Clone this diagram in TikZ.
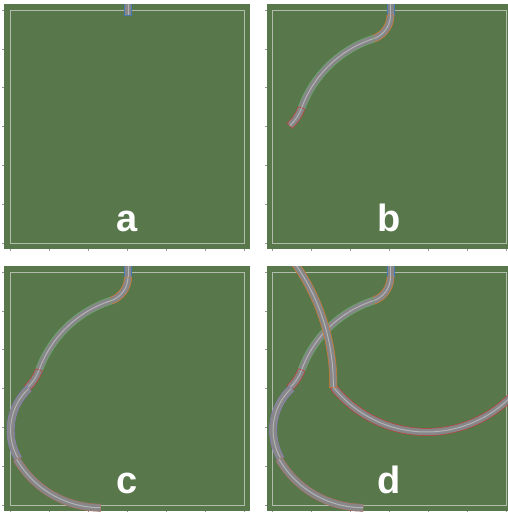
\documentclass[tikz,border=0pt]{standalone}
\usepackage{fontspec}
\setmainfont{Liberation Sans}
\definecolor{field}{RGB}{88,120,76}
\definecolor{road}{RGB}{135,135,138}
\definecolor{roadmid}{RGB}{180,180,182}
\definecolor{frameline}{RGB}{178,188,172}
\definecolor{tickgray}{RGB}{150,150,150}
\definecolor{pblue}{RGB}{70,120,180}
\definecolor{porange}{RGB}{215,120,40}
\definecolor{pgreen}{RGB}{95,170,95}
\definecolor{pred}{RGB}{195,60,55}
\definecolor{ppurple}{RGB}{140,125,190}
\definecolor{pbrown}{RGB}{175,110,100}
\tikzset{
  piece/.style={fill=road, line width=0.5pt},
  midline/.style={draw=roadmid, line width=1pt},
  lbl/.style={anchor=base, text=white, inner sep=0pt, font=\fontsize{38}{38}\selectfont\bfseries},
  innerframe/.style={draw=frameline, line width=0.9pt},
  tickmark/.style={draw=tickgray, line width=0.6pt}
}
\newcommand{\trackarc}[6]{%
  \begin{scope}[shift={(#1,#2)}]
    \pgfmathsetmacro\trkOut{#3+3.6}%
    \pgfmathsetmacro\trkIn{#3-3.6}%
    \filldraw[piece, draw=#6] (#4:\trkOut) arc[start angle=#4, end angle=#5, radius=\trkOut]
      -- (#5:\trkIn) arc[start angle=#5, end angle=#4, radius=\trkIn] -- cycle;
    \draw[midline] (#4:#3) arc[start angle=#4, end angle=#5, radius=#3];
  \end{scope}}
\newcommand{\pcStraight}{%
  \filldraw[piece, draw=pblue] (124.4,-6) rectangle (131.6,15);
  \draw[midline] (128,-6) -- (128,15);}
\newcommand{\pcOrange}{\trackarc{103}{15}{25}{0}{72}{porange}}
\newcommand{\pcGreen}{\trackarc{145.8}{146.7}{113.5}{252}{200}{pgreen}}
\newcommand{\pcRed}{\trackarc{-4.13}{92.17}{46}{20}{47}{pred}}
\newcommand{\pcPurple}{\trackarc{67.6}{168.2}{57}{227}{150}{ppurple}}
\newcommand{\pcBrown}{\trackarc{100.67}{148.7}{97}{150}{90}{pbrown}}
\newcommand{\pcOrangeB}{\trackarc{-137.7}{122}{208.5}{-40}{1}{porange}}
\newcommand{\pcRedB}{\trackarc{164}{51}{119}{141.55}{10}{pred}}
\newcommand{\panelbase}{%
  \fill[field] (4,4) rectangle (250,249);
  \draw[innerframe] (10,10) rectangle (244,243);
  \foreach \t in {0,...,6} {
    \draw[tickmark] (2.3,{10+\t*38.83}) -- (4,{10+\t*38.83});
    \draw[tickmark] ({10+\t*39},249) -- ({10+\t*39},250.8);
  }}
\begin{document}
\begin{tikzpicture}[x=1pt, y=-1pt]
  \useasboundingbox (0,0) rectangle (508,512);
  \fill[white] (0,0) rectangle (508,512);
  % panel a
  \begin{scope}
    \panelbase
    \begin{scope}
      \clip (4,4) rectangle (250,249);
      \pcStraight
    \end{scope}
    \node[lbl] (la) at (127,231) {a};
  \end{scope}
  % panel b
  \begin{scope}[shift={(262.5,0)}]
    \panelbase
    \begin{scope}
      \clip (4,4) rectangle (250,249);
      \pcStraight \pcOrange \pcGreen \pcRed
    \end{scope}
    \node[lbl] (lb) at (127,231) {b};
  \end{scope}
  % panel c
  \begin{scope}[shift={(0,262)}]
    \panelbase
    \begin{scope}
      \clip (4,4) rectangle (250,249);
      \pcStraight \pcOrange \pcGreen \pcRed \pcPurple \pcBrown
    \end{scope}
    \node[lbl] (lc) at (127,231) {c};
  \end{scope}
  % panel d
  \begin{scope}[shift={(262.5,262)}]
    \panelbase
    \begin{scope}
      \clip (4,4) rectangle (250,249);
      \pcStraight \pcOrange \pcGreen \pcRed \pcPurple \pcBrown
      \pcRedB \pcOrangeB
    \end{scope}
    \node[lbl] (ld) at (127,231) {d};
  \end{scope}
\end{tikzpicture}
\end{document}
